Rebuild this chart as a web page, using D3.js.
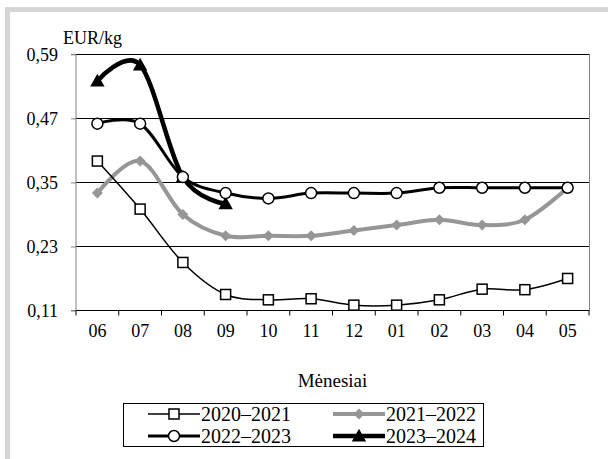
<!DOCTYPE html>
<html><head><meta charset="utf-8">
<script src="https://cdn.jsdelivr.net/npm/d3@7"></script>
<style>body{margin:0;background:#fff}svg{display:block}svg text{font-family:"Times New Roman","Liberation Serif",Times,serif !important;fill:#000}</style>
</head><body><svg id="c" width="608" height="459" font-family="Times New Roman"></svg>
<script>
const months = ["06","07","08","09","10","11","12","01","02","03","04","05"];
const yTicks = [0.11, 0.23, 0.35, 0.47, 0.59];
const s2020 = [0.39,0.30,0.20,0.14,0.13,0.132,0.12,0.12,0.13,0.15,0.149,0.17];
const s2021 = [0.33,0.39,0.29,0.25,0.25,0.25,0.26,0.27,0.28,0.27,0.28,0.34];
const s2022 = [0.46,0.46,0.36,0.33,0.32,0.33,0.33,0.33,0.34,0.34,0.34,0.34];
const s2023 = [0.54,0.57,0.36,0.31];
const seriesNames = ["2020–2021","2021–2022","2022–2023","2023–2024"];

const svg = d3.select("#c");
svg.append("rect").attr("x",5).attr("y",7).attr("width",603).attr("height",5).attr("fill","#d6d6d6");
svg.append("rect").attr("x",5).attr("y",7).attr("width",5).attr("height",452).attr("fill","#d6d6d6");

const L=76, R=589, T=54.3, B=310.5;
const x = d3.scaleBand().domain(months).range([L,R]).padding(0);
const y = d3.scaleLinear().domain([0.11,0.59]).range([B,T]);
const cx = m => x(m)+x.bandwidth()/2;

svg.append("g").selectAll("line").data(yTicks.slice(1)).join("line")
  .attr("x1",L).attr("x2",R).attr("y1",d=>y(d)).attr("y2",d=>y(d))
  .attr("stroke","#000").attr("stroke-width",1).attr("shape-rendering","crispEdges");
svg.append("line").attr("x1",R).attr("x2",R).attr("y1",T).attr("y2",B).attr("stroke","#808080").attr("stroke-width",1).attr("shape-rendering","crispEdges");

const yAxis = d3.axisLeft(y).tickValues(yTicks).tickSize(5).tickPadding(13)
  .tickFormat(d=>d3.format(".2f")(d).replace(".",","));
const gy = svg.append("g").attr("transform",`translate(${L},0)`).call(yAxis).attr("font-family","Times New Roman");
gy.select(".domain").attr("stroke","#808080").attr("d",`M-5,${T}H0V${B}H-5`);
gy.selectAll(".tick line").attr("stroke","#808080");
gy.selectAll("text").attr("font-size",18).attr("dy","0.35em");

const gx = svg.append("g").attr("transform",`translate(0,${B})`);
gx.append("line").attr("x1",L).attr("x2",R).attr("stroke","#000").attr("stroke-width",1);
const bounds = months.map(m=>x(m)).concat([R]);
gx.selectAll(".tk").data(bounds).join("line").attr("class","tk")
  .attr("x1",d=>d).attr("x2",d=>d).attr("y1",0).attr("y2",5).attr("stroke","#000");
gx.selectAll("text").data(months).join("text")
  .attr("x",d=>cx(d)).attr("y",26).attr("text-anchor","middle").attr("font-size",18).text(d=>d);

svg.append("text").attr("x",(L+R)/2).attr("y",387).attr("text-anchor","middle").attr("font-size",19).text("Mėnesiai");
svg.append("text").attr("x",63).attr("y",44).attr("font-size",18).text("EUR/kg");

const curve = d3.curveCardinal.tension(0);
const line = d3.line().x((d,i)=>cx(months[i])).y(d=>y(d)).curve(curve);

function sq(g, px, py, s){ g.append("rect").attr("x",px-s/2).attr("y",py-s/2).attr("width",s).attr("height",s).attr("fill","#fff").attr("stroke","#000").attr("stroke-width",1.5); }
function dia(g, px, py, s, c){ g.append("path").attr("d",`M${px},${py-s}L${px+s},${py}L${px},${py+s}L${px-s},${py}Z`).attr("fill",c); }
function circ(g, px, py, r){ g.append("circle").attr("cx",px).attr("cy",py).attr("r",r).attr("fill","#fff").attr("stroke","#000").attr("stroke-width",1.5); }
function tri(g, px, py, s){ g.append("path").attr("d",`M${px},${py-s*0.6}L${px+s*0.6},${py+s*0.45}L${px-s*0.6},${py+s*0.45}Z`).attr("fill","#000"); }

const gray = "#969696";
const g1 = svg.append("g");
g1.append("path").attr("d",line(s2020)).attr("fill","none").attr("stroke","#000").attr("stroke-width",1.5);
const g2 = svg.append("g");
g2.append("path").attr("d",line(s2021)).attr("fill","none").attr("stroke",gray).attr("stroke-width",4);
s2021.forEach((v,i)=>dia(g2,cx(months[i]),y(v),5.5,gray));
const g3 = svg.append("g");
g3.append("path").attr("d",line(s2022)).attr("fill","none").attr("stroke","#000").attr("stroke-width",3);
const g4 = svg.append("g");
g4.append("path").attr("d",line(s2023)).attr("fill","none").attr("stroke","#000").attr("stroke-width",4.5);
s2023.forEach((v,i)=>tri(g4,cx(months[i]),y(v),12));
s2022.forEach((v,i)=>circ(g3,cx(months[i]),y(v),5.5));
s2020.forEach((v,i)=>sq(g1,cx(months[i]),y(v),10));
svg.node().appendChild(g3.node());
svg.node().appendChild(g1.node());

const lg = svg.append("g");
lg.append("rect").attr("x",123.5).attr("y",403.5).attr("width",360).attr("height",43).attr("fill","#fff").attr("stroke","#000").attr("stroke-width",1);
const legPos = [[148,414],[333,414],[148,436],[333,436]];
legPos.forEach((p,i)=>{
  const [lx,ly]=p, mx=lx+26;
  if(i===0){ lg.append("line").attr("x1",lx).attr("x2",lx+52).attr("y1",ly).attr("y2",ly).attr("stroke","#000").attr("stroke-width",1.5); sq(lg,mx,ly,10); }
  if(i===1){ lg.append("line").attr("x1",lx).attr("x2",lx+52).attr("y1",ly).attr("y2",ly).attr("stroke",gray).attr("stroke-width",4); dia(lg,mx,ly,5.5,gray); }
  if(i===2){ lg.append("line").attr("x1",lx).attr("x2",lx+52).attr("y1",ly).attr("y2",ly).attr("stroke","#000").attr("stroke-width",3); circ(lg,mx,ly,5.5); }
  if(i===3){ lg.append("line").attr("x1",lx).attr("x2",lx+52).attr("y1",ly).attr("y2",ly).attr("stroke","#000").attr("stroke-width",4.5); tri(lg,mx,ly,12); }
  lg.append("text").attr("x",lx+53).attr("y",ly).attr("dy","0.35em").attr("font-size",20).text(seriesNames[i]);
});
</script></body></html>
